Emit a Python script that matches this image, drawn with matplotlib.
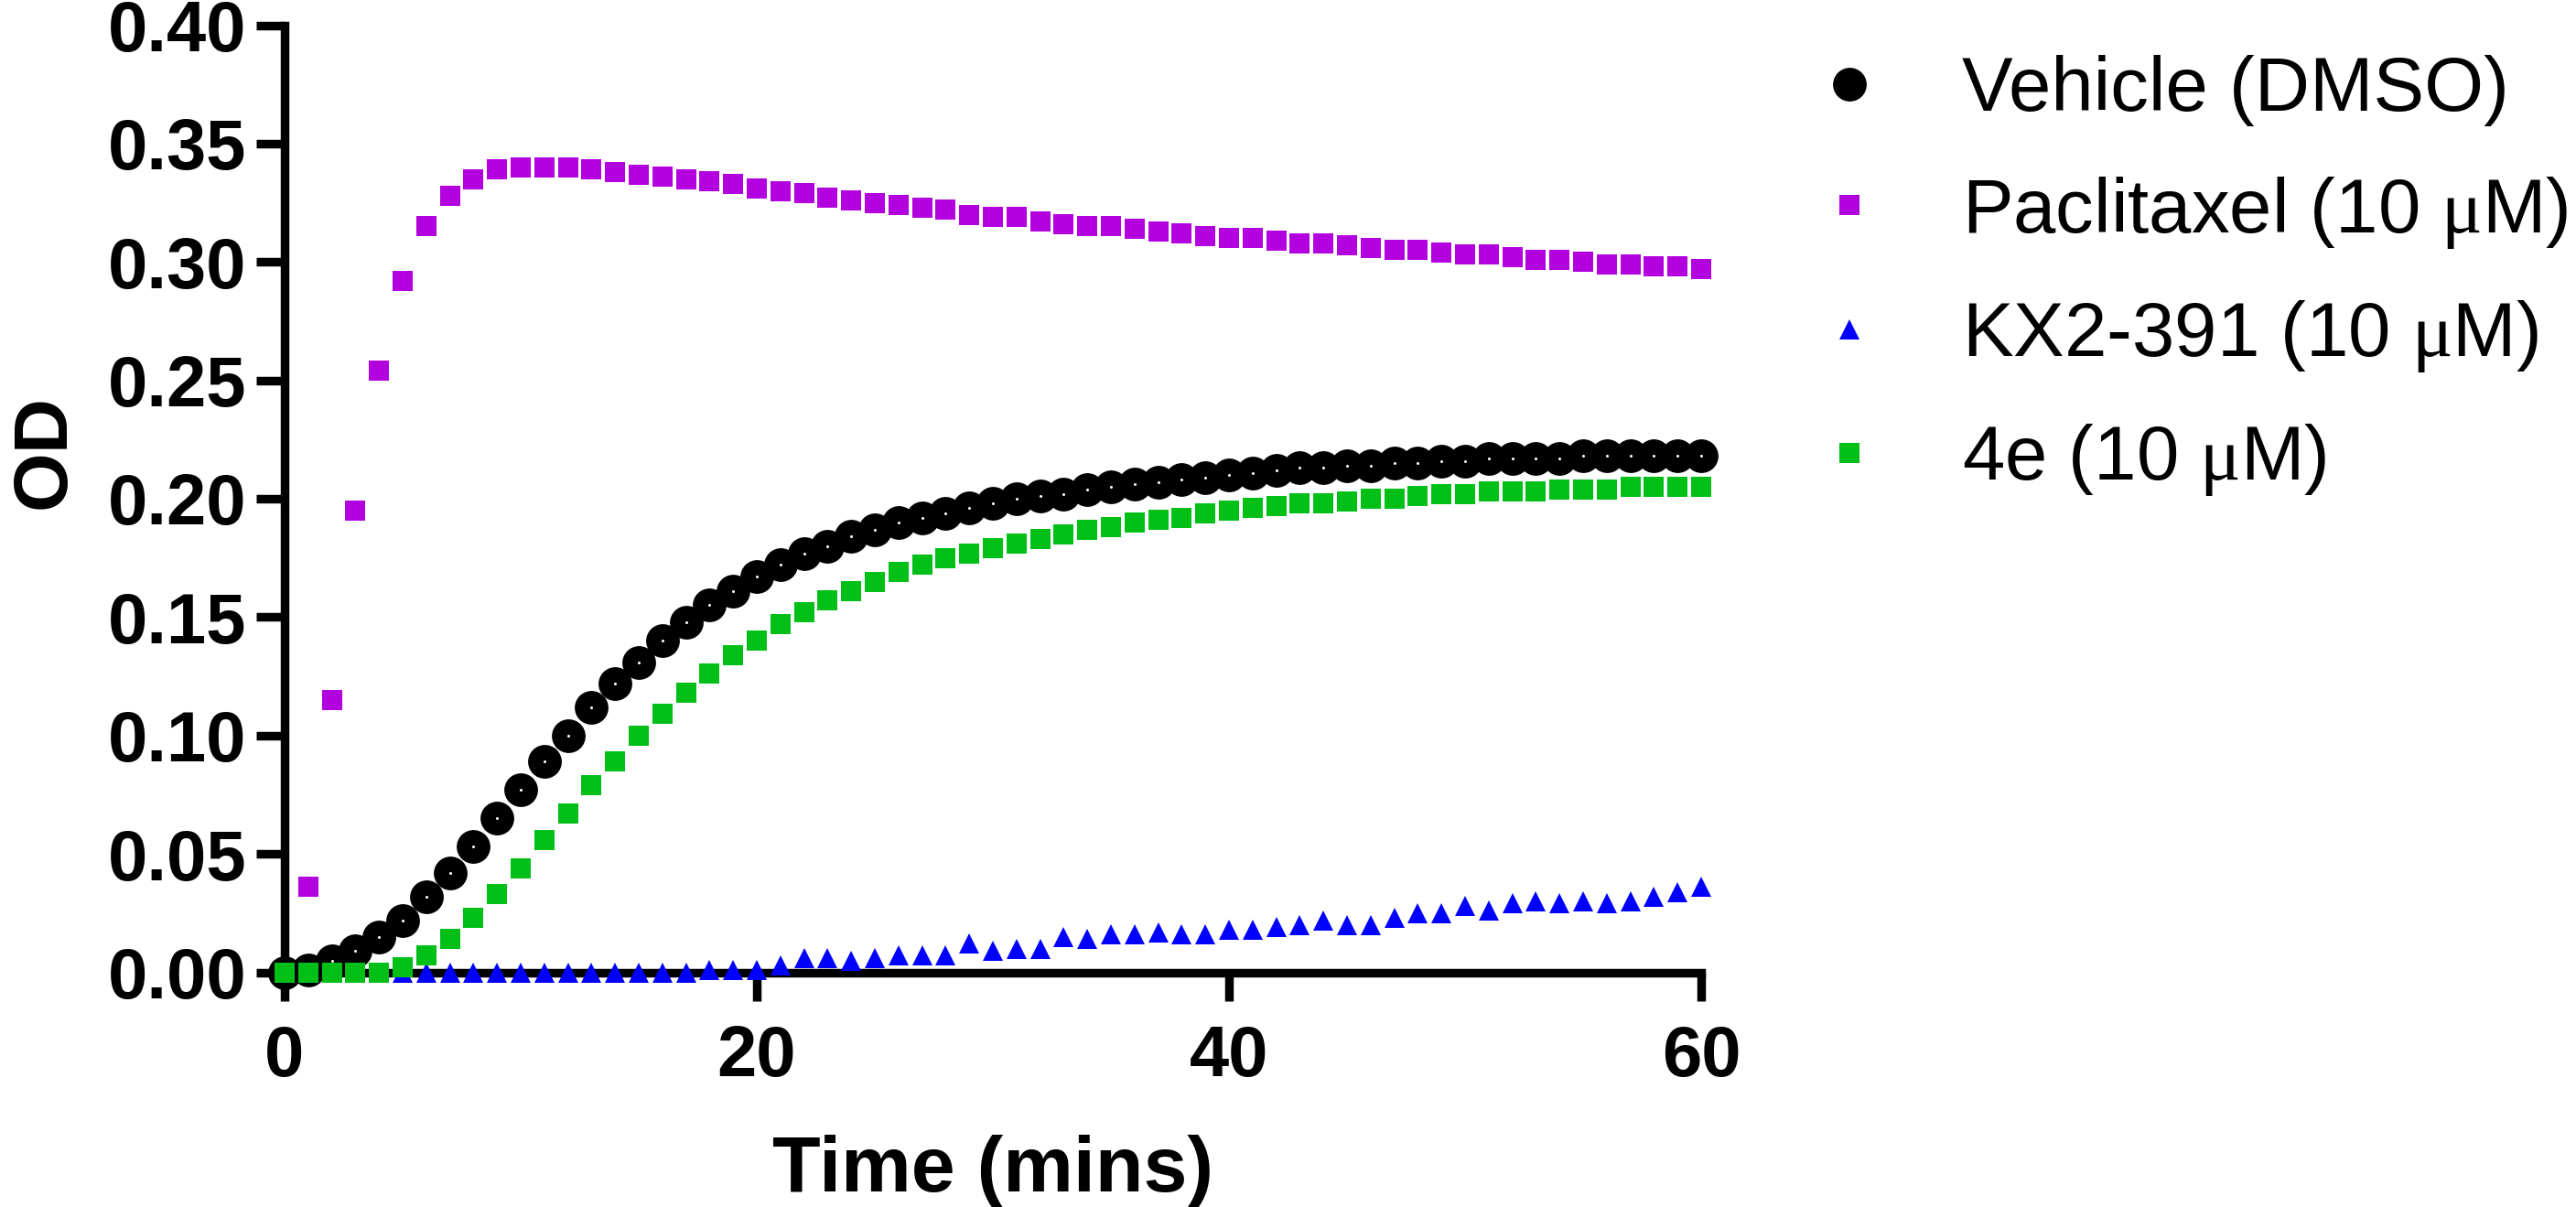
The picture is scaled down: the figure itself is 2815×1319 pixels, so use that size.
import matplotlib
matplotlib.use("Agg")
import matplotlib.pyplot as plt
import numpy as np

# time points (mins)
time = list(range(0, 61))

vehicle = [0.000, 0.001, 0.005, 0.009, 0.015, 0.022, 0.032, 0.042, 0.053, 0.065,
           0.077, 0.089, 0.100, 0.112, 0.122, 0.131, 0.140, 0.148, 0.155, 0.161,
           0.167, 0.172, 0.177, 0.180, 0.184, 0.187, 0.190, 0.192, 0.194, 0.196,
           0.198, 0.200, 0.201, 0.202, 0.204, 0.205, 0.206, 0.207, 0.208, 0.209,
           0.210, 0.211, 0.212, 0.213, 0.213, 0.214, 0.214, 0.215, 0.215, 0.216,
           0.216, 0.217, 0.217, 0.217, 0.217, 0.218, 0.218, 0.218, 0.218, 0.218,
           0.218]

paclitaxel = [0.000, 0.036, 0.115, 0.195, 0.254, 0.292, 0.315, 0.328, 0.335, 0.339,
              0.340, 0.340, 0.340, 0.339, 0.338, 0.337, 0.336, 0.335, 0.334, 0.333,
              0.331, 0.330, 0.329, 0.327, 0.326, 0.325, 0.324, 0.323, 0.322, 0.320,
              0.319, 0.319, 0.317, 0.316, 0.315, 0.315, 0.314, 0.313, 0.312, 0.311,
              0.310, 0.310, 0.309, 0.308, 0.308, 0.307, 0.306, 0.305, 0.305, 0.304,
              0.303, 0.303, 0.302, 0.301, 0.301, 0.300, 0.299, 0.299, 0.298, 0.298,
              0.297]

kx2 = [0.000, 0.000, 0.000, 0.000, 0.000, 0.000, 0.000, 0.000, 0.000, 0.000,
       0.000, 0.000, 0.000, 0.000, 0.000, 0.000, 0.000, 0.000, 0.001, 0.001,
       0.001, 0.003, 0.006, 0.006, 0.005, 0.006, 0.007, 0.007, 0.007, 0.012,
       0.009, 0.010, 0.010, 0.015, 0.014, 0.016, 0.016, 0.017, 0.016, 0.016,
       0.018, 0.018, 0.019, 0.020, 0.022, 0.020, 0.020, 0.023, 0.025, 0.025,
       0.028, 0.026, 0.029, 0.030, 0.029, 0.030, 0.029, 0.030, 0.032, 0.034,
       0.036]

cmpd_4e = [0.000, 0.000, 0.000, 0.000, 0.000, 0.002, 0.007, 0.014, 0.023, 0.033,
           0.044, 0.056, 0.067, 0.079, 0.089, 0.100, 0.109, 0.118, 0.126, 0.134,
           0.140, 0.147, 0.152, 0.157, 0.161, 0.165, 0.169, 0.172, 0.175, 0.177,
           0.179, 0.181, 0.183, 0.185, 0.187, 0.188, 0.190, 0.191, 0.192, 0.194,
           0.195, 0.196, 0.197, 0.198, 0.198, 0.199, 0.200, 0.200, 0.201, 0.202,
           0.202, 0.203, 0.203, 0.203, 0.204, 0.204, 0.204, 0.205, 0.205, 0.205,
           0.205]

mu = r"$\mathrm{\mu}$"
labels = ["Vehicle (DMSO)", "Paclitaxel (10 " + mu + "M)", "KX2-391 (10 " + mu + "M)",
          "4e (10 " + mu + "M)"]
xticks = [0, 20, 40, 60]
yticks = np.arange(0, 0.41, 0.05)

plt.rcParams['font.family'] = ['Liberation Sans', 'DejaVu Sans']
plt.rcParams['mathtext.fontset'] = 'custom'
plt.rcParams['mathtext.rm'] = 'Liberation Serif'

W, H = 2815, 1319
fig = plt.figure(figsize=(W / 100, H / 100), dpi=100)
ax = fig.add_axes([311 / W, 1 - 1062.5 / H, (1859 - 311) / W, (1062.5 - 27.5) / H])

purple = '#B200DE'
green = '#00C018'
blue = '#0000FF'

h_pac, = ax.plot(time, paclitaxel, 's', color=purple, ms=15.8, mew=0, clip_on=False, zorder=3)
h_kx, = ax.plot(time, kx2, '^', color=blue, ms=15.5, mew=0, clip_on=False, zorder=4)
h_veh, = ax.plot(time, vehicle, 'o', color='black', ms=26.5, mew=0, clip_on=False, zorder=5)
ax.plot(time, vehicle, 'o', color='white', ms=2.2, mew=0, clip_on=False, zorder=5.5)
h_4e, = ax.plot(time, cmpd_4e, 's', color=green, ms=15.8, mew=0, clip_on=False, zorder=6)

ax.set_xlim(0, 60)
ax.set_ylim(0, 0.40)
ax.set_xticks(xticks)
ax.set_yticks(yticks)
ax.set_yticklabels(["%.2f" % v for v in yticks])

for s in ['top', 'right']:
    ax.spines[s].set_visible(False)
for s in ['left', 'bottom']:
    ax.spines[s].set_linewidth(6.8)
    ax.spines[s].set_capstyle('projecting')

ax.tick_params(axis='both', direction='out', length=22, width=6.8)
ax.tick_params(axis='y', pad=8, labelsize=56)
ax.tick_params(axis='x', pad=19, labelsize=56)
for lab in ax.get_xticklabels() + ax.get_yticklabels():
    lab.set_fontweight('bold')

ax.set_xlabel("Time (mins)", fontsize=62, fontweight='bold')
ax.xaxis.label.set_verticalalignment('baseline')
ax.xaxis.set_label_coords(0.5, -0.2314)
ax.set_ylabel("OD", fontsize=60, fontweight='bold')
ax.yaxis.set_label_coords(-0.144, 0.55)

leg = fig.legend([h_veh, h_pac, h_kx, h_4e], labels, loc='upper left',
                 bbox_to_anchor=(1988 / W, 1 - 60 / H), frameon=False,
                 fontsize=60, handlelength=0.8, handletextpad=1.07,
                 labelspacing=0.63, borderpad=0, borderaxespad=0, numpoints=1)

fig.savefig("out.png", dpi=100)
